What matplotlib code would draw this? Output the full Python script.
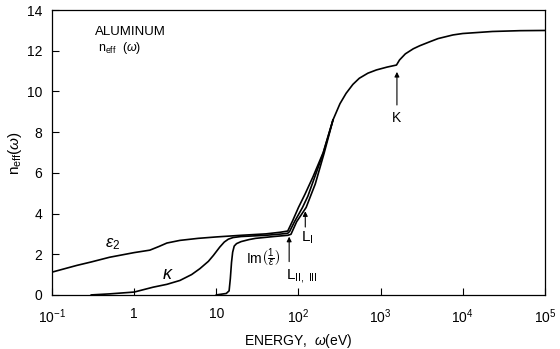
import matplotlib
matplotlib.use("Agg")
import matplotlib.pyplot as plt

plt.rcParams['font.family'] = ['Liberation Sans', 'DejaVu Sans']
plt.rcParams['mathtext.fontset'] = 'custom'
plt.rcParams['mathtext.rm'] = 'Liberation Sans'
plt.rcParams['mathtext.it'] = 'Liberation Sans:italic'

# energies in eV, n_eff values
eps2_E = [0.1, 0.2, 0.3, 0.5, 1.0, 1.55, 2.0, 2.5, 3.6, 6, 10, 20, 40, 60, 74,
          85, 100, 120, 150, 200, 263, 320, 380, 460, 550, 700, 890, 1200,
          1560, 1700, 2000, 2500, 3000, 4000, 5000, 7600, 1e4, 2.3e4, 5e4, 1e5]
eps2_n = [1.12, 1.45, 1.62, 1.85, 2.08, 2.2, 2.38, 2.55, 2.68, 2.78, 2.85,
          2.93, 3.0, 3.08, 3.14, 3.65, 4.3, 4.95, 5.8, 7.0, 8.6, 9.4, 9.91,
          10.35, 10.65, 10.9, 11.06, 11.2, 11.3, 11.55, 11.85, 12.1, 12.25,
          12.45, 12.6, 12.78, 12.85, 12.95, 12.99, 13.0]

kappa_E = [0.3, 0.5, 1.0, 1.7, 2.5, 3.6, 5.0, 6.3, 8.0, 9.2, 11, 12.5, 14, 16,
           20, 40, 60, 74, 78, 90, 112, 130, 150, 200, 263]
kappa_n = [0.0, 0.05, 0.14, 0.38, 0.52, 0.71, 1.0, 1.29, 1.65, 1.94, 2.35,
           2.6, 2.74, 2.82, 2.87, 2.93, 2.99, 3.03, 3.12, 3.62, 4.3, 4.85,
           5.55, 6.96, 8.6]

im_E = [10, 13.2, 14.3, 14.8, 15.3, 15.8, 16.5, 17.6, 20, 25, 30, 50, 74,
        81, 95, 124, 140, 160, 205, 263]
im_n = [0.0, 0.07, 0.2, 0.8, 1.6, 2.1, 2.4, 2.52, 2.62, 2.72, 2.78, 2.87,
        2.93, 2.98, 3.6, 4.3, 4.85, 5.45, 6.96, 8.6]

x_ticks = [0.1, 1, 10, 100, 1000, 1e4, 1e5]
x_labels = ['10$^{-1}$', '1', '10', '10$^2$', '10$^3$', '10$^4$', '10$^5$']
y_ticks = [0, 2, 4, 6, 8, 10, 12, 14]

fig = plt.figure(figsize=(5.6, 3.49), dpi=100)
ax = fig.add_axes([0.093, 0.155, 0.88, 0.816])

ax.plot(eps2_E, eps2_n, color='black', lw=1.2)
ax.plot(kappa_E, kappa_n, color='black', lw=1.2)
ax.plot(im_E, im_n, color='black', lw=1.2)

ax.set_xscale('log')
ax.set_xlim(0.1, 1e5)
ax.set_ylim(0, 14)
ax.set_xticks(x_ticks)
ax.set_xticklabels(x_labels)
ax.minorticks_off()
ax.set_yticks(y_ticks)
ax.tick_params(direction='in', length=5, width=0.8, labelsize=10)
ax.tick_params(axis='x', pad=9)
ax.tick_params(axis='y', pad=7)
for s in ax.spines.values():
    s.set_linewidth(0.9)

ax.set_xlabel('ENERGY,  $\\omega$(eV)', fontsize=10, labelpad=4)
ax.set_ylabel('n$_{\\rm eff}$($\\omega$)', fontsize=11, labelpad=2)

# annotations
ax.text(0.33, 12.9, 'ALUMINUM', fontsize=9.5, va='center')
ax.text(0.36, 12.15, 'n$_{\\rm eff}$  ($\\omega$)', fontsize=9, va='center')
ax.text(0.55, 2.5, '$\\epsilon_2$', fontsize=12, ha='center', va='center')
ax.text(2.6, 1.0, '$\\kappa$', fontsize=13, ha='center', va='center')
ax.text(23, 1.85, 'Im$\\left(\\frac{1}{\\epsilon}\\right)$', fontsize=10,
        ha='left', va='center')

arrow = dict(arrowstyle='-|>', color='black', lw=0.8, mutation_scale=7)
ax.annotate('', xy=(77, 3.0), xytext=(77, 1.5), arrowprops=arrow)
ax.text(70, 0.95, 'L$_{\\rm II,\\ III}$', fontsize=11, ha='left', va='center')
ax.annotate('', xy=(121, 4.25), xytext=(121, 3.2), arrowprops=arrow)
ax.text(108, 2.8, 'L$_{\\rm I}$', fontsize=11, ha='left', va='center')
ax.annotate('', xy=(1580, 11.1), xytext=(1580, 9.2), arrowprops=arrow)
ax.text(1580, 8.7, 'K', fontsize=10, ha='center', va='center')

fig.savefig('out.png', dpi=100)
